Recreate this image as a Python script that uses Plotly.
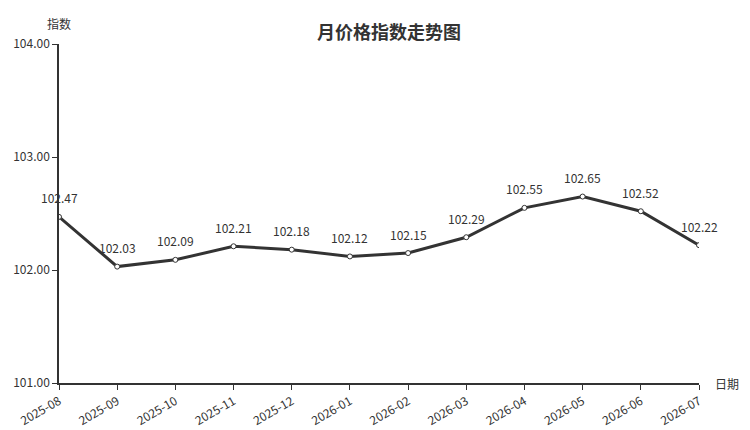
import plotly.graph_objects as go

months = ["2025-08", "2025-09", "2025-10", "2025-11", "2025-12", "2026-01",
          "2026-02", "2026-03", "2026-04", "2026-05", "2026-06", "2026-07"]
index_values = [102.47, 102.03, 102.09, 102.21, 102.18, 102.12,
                102.15, 102.29, 102.55, 102.65, 102.52, 102.22]
y_ticks = [101, 102, 103, 104]

FONT = "Noto Sans CJK SC"
DARK = "#333333"

fig = go.Figure()
fig.add_trace(go.Scatter(
    x=months, y=index_values, mode="lines+markers",
    line=dict(color=DARK, width=3),
    marker=dict(size=5, color="white", line=dict(color=DARK, width=1)),
    showlegend=False, hoverinfo="x+y",
))

for m, v in zip(months, index_values):
    fig.add_annotation(x=m, y=v, text=f"{v:.2f}", showarrow=False,
                       yshift=19, font=dict(family=FONT, size=12, color=DARK))

fig.add_annotation(xref="paper", yref="paper", x=0, y=1, xanchor="center",
                   yanchor="middle", yshift=21, text="指数", showarrow=False,
                   font=dict(family=FONT, size=12, color=DARK))
fig.add_annotation(xref="paper", yref="paper", x=1, y=0, xanchor="left",
                   yanchor="middle", xshift=14, text="日期", showarrow=False,
                   font=dict(family=FONT, size=12, color=DARK))

fig.update_layout(
    width=742, height=422,
    margin=dict(l=51, r=51, t=36, b=47),
    paper_bgcolor="white", plot_bgcolor="white",
    title=dict(text="<b>月价格指数走势图</b>", x=0.5135, xanchor="center",
               y=0.941, yanchor="middle",
               font=dict(family=FONT, size=18, color=DARK)),
    font=dict(family=FONT, size=12, color=DARK),
    xaxis=dict(type="category", range=[0, len(months) - 1], showgrid=False,
               showline=True, linecolor=DARK, linewidth=1.5,
               ticks="outside", ticklen=5, tickcolor=DARK, tickangle=-30,
               automargin=False, zeroline=False,
               tickfont=dict(family=FONT, size=12, color=DARK)),
    yaxis=dict(range=[101, 104], tickvals=y_ticks,
               ticktext=[f"{t:.2f}" for t in y_ticks], showgrid=False,
               showline=True, linecolor=DARK, linewidth=1.5,
               ticks="outside", ticklen=5, tickcolor=DARK,
               automargin=False, zeroline=False,
               tickfont=dict(family=FONT, size=12, color=DARK)),
)

fig.write_html("out.html")
